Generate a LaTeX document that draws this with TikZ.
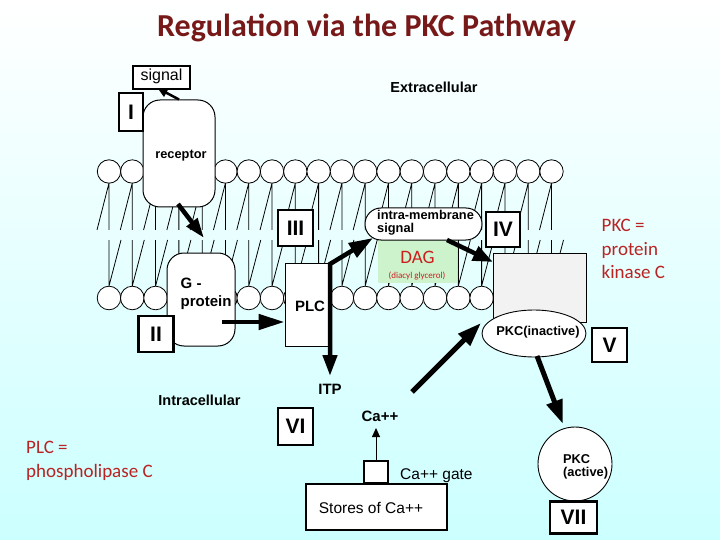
\documentclass[tikz,border=0pt]{standalone}
\usepackage{fontspec}
\setmainfont{Liberation Sans}
\newfontfamily\slidefont{Carlito}
\usetikzlibrary{arrows.meta,shapes.geometric,calc}
\definecolor{titlered}{RGB}{120,25,25}
\definecolor{notered}{RGB}{185,35,35}
\definecolor{dagred}{RGB}{205,30,30}
\definecolor{daggreen}{RGB}{204,243,204}
\definecolor{bgcyan}{RGB}{204,255,255}
\definecolor{pkcgray}{RGB}{242,242,242}
\begin{document}
\begin{tikzpicture}[x=1pt,y=-1pt,
  lbl/.style={draw,line width=2.4pt,fill=white,minimum width=35pt,minimum height=36pt,inner sep=0pt,font=\fontsize{21}{21}\selectfont\bfseries},
  boxed/.style={draw,line width=1.1pt,fill=white,inner sep=0pt},
  bt/.style={font=\fontsize{15}{15}\selectfont\bfseries,inner sep=0pt},
  mt/.style={font=\fontsize{12.8}{12.8}\selectfont\bfseries,inner sep=0pt},
  rt/.style={font=\fontsize{15.5}{15.5}\selectfont,inner sep=0pt},
  note/.style={font=\slidefont\fontsize{19}{19}\selectfont,text=notered,inner sep=0pt,anchor=base west},
  bigarrow/.style={line width=4.5pt,line join=miter,-{Triangle[length=22pt,width=15pt]}},
  smallarrow/.style={line width=2.5pt,-{Triangle[length=10pt,width=9pt]}},
  thinarrow/.style={line width=1pt,-{Triangle[length=9pt,width=8pt]}},
  lipid/.style={line width=0.8pt}
]
\useasboundingbox (0,0) rectangle (720,540);
\shade[top color=white,bottom color=bgcyan] (0,0) rectangle (720,540);

% title
\node[anchor=base,font=\slidefont\bfseries\fontsize{32}{32}\selectfont,text=titlered,inner sep=0pt] (title) at (366.5,37) {Regulation via the PKC Pathway};

% membrane
\foreach \i in {0,...,19} {
  \pgfmathsetmacro\hx{109+23.29*\i}
  \draw[lipid] (\hx,183) -- (\hx,230) (\hx,183) -- (\hx-12,230);
  \draw[lipid] (\hx,286) -- (\hx,240) (\hx,286) -- (\hx+12,240);
  \draw[lipid,fill=white] (\hx,171.5) circle[radius=11.7];
  \draw[lipid,fill=white] (\hx,298) circle[radius=11.8];
}

% DAG
\node[fill=daggreen,minimum width=79pt,minimum height=43pt,inner sep=0pt] (dagbox) at (417.5,261.5) {};
\node[anchor=base,font=\slidefont\fontsize{19}{19}\selectfont,text=dagred,inner sep=0pt] (dag) at (417.5,263) {DAG};
\node[anchor=base,font=\slidefont\fontsize{9}{9}\selectfont,text=dagred,inner sep=0pt] (diacyl) at (417,278) {(diacyl glycerol)};

% intra-membrane signal
\node[draw,line width=1pt,fill=white,rounded corners=16pt,minimum width=117pt,minimum height=32pt,inner sep=0pt] (intra) at (423.5,224) {};
\node[mt,anchor=base west] (intra1) at (377,220) {intra-membrane};
\node[mt,anchor=base west] (intra2) at (377,233) {signal};

% receptor
\node[draw,line width=1pt,fill=white,rounded corners=17pt,minimum width=72pt,minimum height=107pt,inner sep=0pt] (receptor) at (179,153.5) {};
\node[mt,anchor=base] (receptortext) at (181,159) {receptor};

% G-protein
\node[draw,line width=1pt,fill=white,rounded corners=17pt,minimum width=68pt,minimum height=93pt,inner sep=0pt] (gprot) at (201,299.5) {};
\node[bt,anchor=base west] (g1) at (180.5,288) {G -};
\node[bt,anchor=base west] (g2) at (180.5,306.5) {protein};

% PLC
\node[boxed,line width=0.8pt,minimum width=43pt,minimum height=83pt] (plc) at (306.5,304.5) {};
\node[bt,anchor=base] (plctext) at (310,311.5) {PLC};

% PKC box and inactive
\node[draw,line width=0.8pt,fill=pkcgray,minimum width=93pt,minimum height=69pt,inner sep=0pt] (pkcbox) at (539.5,287.5) {};
\node[draw,line width=0.9pt,fill=white,ellipse,minimum width=104pt,minimum height=47pt,inner sep=0pt] (pkcin) at (534,333.5) {};
\node[mt,anchor=base] (pkcintext) at (538,335.5) {PKC(inactive)};

% PKC active
\node[draw,line width=0.9pt,fill=white,circle,minimum size=74pt,inner sep=0pt] (pkcact) at (575,464) {};
\node[mt,anchor=base west] (pkca1) at (563,463.5) {PKC};
\node[mt,anchor=base west] (pkca2) at (563,476.5) {(active)};

% signal
\node[boxed,minimum width=57pt,minimum height=23pt] (signal) at (161.5,77.5) {};
\node[rt,font=\fontsize{16}{16}\selectfont,anchor=base] (signaltext) at (161.5,81) {signal};

% Stores and gate
\node[boxed,minimum width=141pt,minimum height=46pt] (stores) at (376.5,507) {};
\node[rt,anchor=base] (storestext) at (371,513.3) {Stores of Ca++};
\node[boxed,minimum width=24pt,minimum height=22pt] (gate) at (376,472) {};
\node[rt,anchor=base west] (gatetext) at (400,479.3) {Ca++ gate};

% free texts
\node[bt,font=\fontsize{14.5}{14.5}\selectfont\bfseries,anchor=base] (extra) at (434,92.5) {Extracellular};
\node[bt,font=\fontsize{14.5}{14.5}\selectfont\bfseries,anchor=base] (intracell) at (199.5,405) {Intracellular};
\node[bt,anchor=base] (itp) at (330,394) {ITP};
\node[bt,anchor=base] (ca) at (380,421.7) {Ca++};

\node[note] (pkcnote1) at (601.5,231.7) {PKC =};
\node[note] (pkcnote2) at (601.5,255.2) {protein};
\node[note] (pkcnote3) at (601.5,278.7) {kinase C};
\node[note] (plcnote1) at (26,453.3) {PLC =};
\node[note] (plcnote2) at (26,477) {phospholipase C};

% roman labels
\node[lbl,minimum width=24pt,minimum height=38pt] (L1) at (131,112) {I};
\node[lbl] (L2) at (156,334) {II};
\node[lbl] (L3) at (295.5,228) {III};
\node[lbl,minimum width=34pt,minimum height=35pt] (L4) at (503,229.5) {IV};
\node[lbl,minimum width=35pt,minimum height=34pt] (L5) at (609.5,345) {V};
\node[lbl,minimum height=37pt] (L6) at (295.5,426.5) {VI};
\node[lbl,minimum width=47pt,minimum height=32pt] (L7) at (573.5,517.5) {VII};

% arrows
\draw[smallarrow] (receptor.north) -- ([xshift=-4pt,yshift=1.5pt]signal.south);
\coordinate (gtip) at (204,238);
\draw[bigarrow,-{Triangle[length=20pt,width=13pt]}] (178,204) -- (gtip);
\coordinate (gstart) at (222,322);
\draw[bigarrow,-{Triangle[length=26pt,width=15pt]}] (gstart) -- (plc.west |- gstart);
\coordinate (corner) at (330,264);
\coordinate (itptip) at (330,376);
\coordinate (intratip) at (373,238);
\draw[line width=4.5pt,line join=miter,{Triangle[length=21pt,width=14pt]}-{Triangle[length=24pt,width=16pt]}] (itptip) -- (corner) -- (intratip);
\coordinate (intrastart) at (447,240);
\coordinate (pkcboxtip) at (493,262);
\draw[bigarrow,-{Triangle[length=20pt,width=15pt]}] (intrastart) -- (pkcboxtip);
\coordinate (castart) at (412,392);
\coordinate (catip) at (481,323);
\draw[bigarrow,line width=5pt,-{Triangle[length=24pt,width=16pt]}] (castart) -- (catip);
\coordinate (pkcinstart) at (537,356);
\coordinate (pkcacttip) at (563,424);
\draw[bigarrow,line width=5pt,-{Triangle[length=24pt,width=16pt]}] (pkcinstart) -- (pkcacttip);
\coordinate (gatetip) at (376,428);
\draw[thinarrow] (gate.north) -- (gatetip);
\end{tikzpicture}
\end{document}
